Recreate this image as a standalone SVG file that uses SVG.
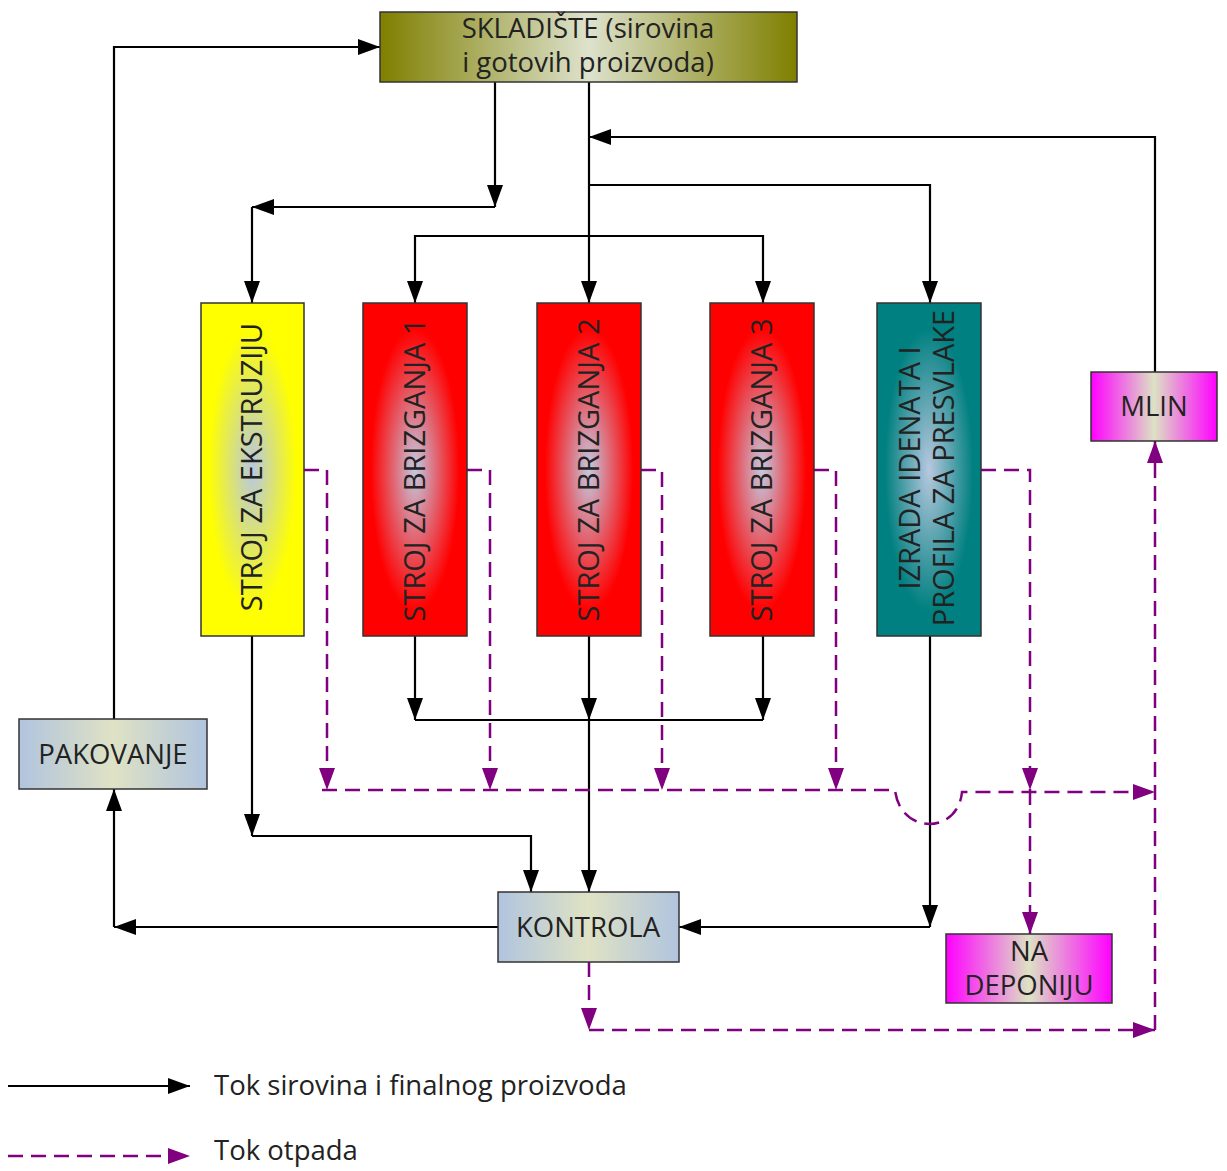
<svg xmlns="http://www.w3.org/2000/svg" width="1227" height="1171" viewBox="0 0 1227 1171">
<style>
.box{stroke:#333;stroke-width:1.5}
.t{font-family:"Open Sans","Noto Sans",sans-serif;font-size:27.5px;fill:#222;text-anchor:middle}
.r{font-size:29px}
.s{fill:none;stroke:#000;stroke-width:2.2}
.d{fill:none;stroke:#800080;stroke-width:2.5;stroke-dasharray:15 8}
</style>
<defs>
<marker id="ab" markerWidth="22" markerHeight="16" refX="22" refY="8" orient="auto" markerUnits="userSpaceOnUse"><path d="M0,0 L22,8 L0,16 z" fill="#000"/></marker>
<marker id="ap" markerWidth="22" markerHeight="16" refX="22" refY="8" orient="auto" markerUnits="userSpaceOnUse"><path d="M0,0 L22,8 L0,16 z" fill="#800080"/></marker>
<linearGradient id="gOlive" x1="0" y1="0" x2="1" y2="0"><stop offset="0" stop-color="#7f7f00"/><stop offset="0.5" stop-color="#dde2cc"/><stop offset="1" stop-color="#7f7f00"/></linearGradient>
<linearGradient id="gMag" x1="0" y1="0" x2="1" y2="0"><stop offset="0" stop-color="#ff00ff"/><stop offset="0.5" stop-color="#dde2c4"/><stop offset="1" stop-color="#ff00ff"/></linearGradient>
<linearGradient id="gSteel" x1="0" y1="0" x2="1" y2="0"><stop offset="0" stop-color="#b0c4de"/><stop offset="0.5" stop-color="#dfe2c4"/><stop offset="1" stop-color="#b0c4de"/></linearGradient>
<radialGradient id="gYel" cx="0.5" cy="0.5" r="0.5"><stop offset="0" stop-color="#b8c8e0"/><stop offset="0.85" stop-color="#ffff00"/></radialGradient>
<radialGradient id="gRed" cx="0.5" cy="0.5" r="0.5"><stop offset="0" stop-color="#c4c8e0"/><stop offset="0.85" stop-color="#ff0000"/></radialGradient>
<radialGradient id="gTeal" cx="0.5" cy="0.5" r="0.5"><stop offset="0" stop-color="#b8c8e0"/><stop offset="0.85" stop-color="#008080"/></radialGradient>
</defs>

<g id="connectors">
<path class="s" d="M495,82 V207" marker-end="url(#ab)"/>
<path class="s" d="M495,207 H252" marker-end="url(#ab)"/>
<path class="s" d="M252,207 V303" marker-end="url(#ab)"/>
<path class="s" d="M589,82 V303" marker-end="url(#ab)"/>
<path class="s" d="M1155,372 V137 H589" marker-end="url(#ab)"/>
<path class="s" d="M589,185 H930 V303" marker-end="url(#ab)"/>
<path class="s" d="M589,236 H415 V303" marker-end="url(#ab)"/>
<path class="s" d="M589,236 H763 V303" marker-end="url(#ab)"/>
<path class="s" d="M252,636 V836" marker-end="url(#ab)"/>
<path class="s" d="M252,836 H531 V892" marker-end="url(#ab)"/>
<path class="s" d="M415,636 V720" marker-end="url(#ab)"/>
<path class="s" d="M589,636 V720" marker-end="url(#ab)"/>
<path class="s" d="M763,636 V720" marker-end="url(#ab)"/>
<path class="s" d="M415,720 H763"/>
<path class="s" d="M589,720 V892" marker-end="url(#ab)"/>
<path class="s" d="M930,636 V927" marker-end="url(#ab)"/>
<path class="s" d="M930,927 H679" marker-end="url(#ab)"/>
<path class="s" d="M498,927 H114" marker-end="url(#ab)"/>
<path class="s" d="M114,927 V789" marker-end="url(#ab)"/>
<path class="s" d="M114,719 V47 H380" marker-end="url(#ab)"/>

<path class="d" d="M304,470 H327 V790" marker-end="url(#ap)"/>
<path class="d" d="M467,470 H490 V790" marker-end="url(#ap)"/>
<path class="d" d="M641,470 H662 V790" marker-end="url(#ap)"/>
<path class="d" d="M814,470 H836 V790" marker-end="url(#ap)"/>
<path class="d" d="M981,470 H1030 V790" marker-end="url(#ap)"/>
<path class="d" d="M1030,790 V934" marker-end="url(#ap)"/>
<path class="d" d="M322,790 H895 C900,835 958,835 962,792 H1155" marker-end="url(#ap)"/>
<path class="d" d="M589,962 V1030" marker-end="url(#ap)"/>
<path class="d" d="M589,1030 H1155" marker-end="url(#ap)"/>
<path class="d" d="M1155,1030 V441" marker-end="url(#ap)"/>
</g>

<g id="skladiste">
<rect class="box" x="380" y="12" width="417" height="70" fill="url(#gOlive)"/>
<text class="t" x="588" y="38">SKLADIŠTE (sirovina</text>
<text class="t" x="588" y="72">i gotovih proizvoda)</text>
</g>
<g id="ekstruzija">
<rect class="box" x="201" y="303" width="103" height="333" fill="url(#gYel)"/>
<text class="t r" transform="translate(262,467) rotate(-90)">STROJ ZA EKSTRUZIJU</text>
</g>
<g id="brizganje1">
<rect class="box" x="363" y="303" width="104" height="333" fill="url(#gRed)"/>
<text class="t r" transform="translate(425,470) rotate(-90)">STROJ ZA BRIZGANJA 1</text>
</g>
<g id="brizganje2">
<rect class="box" x="537" y="303" width="104" height="333" fill="url(#gRed)"/>
<text class="t r" transform="translate(599,470) rotate(-90)">STROJ ZA BRIZGANJA 2</text>
</g>
<g id="brizganje3">
<rect class="box" x="710" y="303" width="104" height="333" fill="url(#gRed)"/>
<text class="t r" transform="translate(772,470) rotate(-90)">STROJ ZA BRIZGANJA 3</text>
</g>
<g id="izrada">
<rect class="box" x="877" y="303" width="104" height="333" fill="url(#gTeal)"/>
<text class="t r" transform="translate(920,468) rotate(-90)">IZRADA IDENATA I</text>
<text class="t r" transform="translate(954,468) rotate(-90)">PROFILA ZA PRESVLAKE</text>
</g>
<g id="mlin">
<rect class="box" x="1091" y="372" width="126" height="69" fill="url(#gMag)"/>
<text class="t" x="1154" y="416">MLIN</text>
</g>
<g id="pakovanje">
<rect class="box" x="19" y="719" width="188" height="70" fill="url(#gSteel)"/>
<text class="t" x="113" y="764">PAKOVANJE</text>
</g>
<g id="kontrola">
<rect class="box" x="498" y="892" width="181" height="70" fill="url(#gSteel)"/>
<text class="t" x="588" y="937">KONTROLA</text>
</g>
<g id="deponija">
<rect class="box" x="946" y="934" width="166" height="69" fill="url(#gMag)"/>
<text class="t" x="1029" y="961">NA</text>
<text class="t" x="1029" y="995">DEPONIJU</text>
</g>

<g id="legend">
<path class="s" d="M8,1086 H190" marker-end="url(#ab)"/>
<path class="d" d="M8,1156 H190" marker-end="url(#ap)"/>
<text class="t" x="214" y="1095" style="text-anchor:start">Tok sirovina i finalnog proizvoda</text>
<text class="t" x="214" y="1160" style="text-anchor:start">Tok otpada</text>
</g>
</svg>
